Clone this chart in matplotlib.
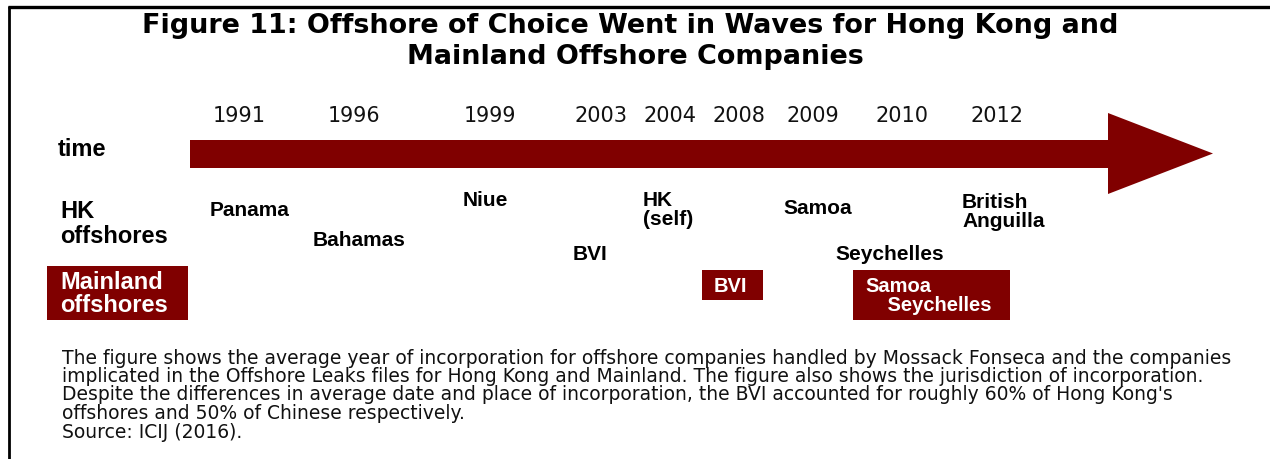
import matplotlib
matplotlib.use("Agg")
import matplotlib.pyplot as plt
from matplotlib.patches import Polygon, Rectangle

# ---------------- data ----------------
years = ["1991", "1996", "1999", "2003", "2004", "2008", "2009", "2010", "2012"]
hk_labels = ["Panama", "Bahamas", "Niue", "BVI", "HK\n(self)", "Samoa", "Seychelles", "British\nAnguilla"]
hk_years = ["1991", "1996", "1999", "2003", "2004", "2009", "2010", "2012"]
mainland_labels = ["BVI", "Samoa\n    Seychelles"]
mainland_years = ["2008", "2010"]

title_lines = ["Figure 11: Offshore of Choice Went in Waves for Hong Kong and",
               "Mainland Offshore Companies"]
caption_lines = [
    "The figure shows the average year of incorporation for offshore companies handled by Mossack Fonseca and the companies",
    "implicated in the Offshore Leaks files for Hong Kong and Mainland. The figure also shows the jurisdiction of incorporation.",
    "Despite the differences in average date and place of incorporation, the BVI accounted for roughly 60% of Hong Kong's",
    "offshores and 50% of Chinese respectively.",
    "Source: ICIJ (2016).",
]

# ---------------- layout (pixel canvas) ----------------
W, H = 1270, 459
DARK = "#800000"
year_x = [239, 354, 490, 601, 670, 739, 813, 902, 997]
hk_pos = {"Panama": (210, 211), "Bahamas": (313, 240), "Niue": (463, 200),
          "BVI": (573, 255), "HK\n(self)": (643, 210), "Samoa": (783, 208),
          "Seychelles": (835, 255), "British\nAnguilla": (962, 212)}
ml_boxes = {"BVI": (702, 270, 763, 300, 714, 286),
            "Samoa\n    Seychelles": (853, 270, 1010, 320, 865, 296)}

fig = plt.figure(figsize=(W / 100, H / 100), dpi=100)
ax = fig.add_axes([0, 0, 1, 1])
ax.set_xlim(0, W)
ax.set_ylim(H, 0)
ax.axis("off")
renderer = fig.canvas.get_renderer()
FONT = "Liberation Sans"
WIDE = "DejaVu Sans"


def fit(t, target_w):
    bb = t.get_window_extent(renderer)
    t.set_fontsize(t.get_fontsize() * target_w / bb.width)
    return t


# frame
ax.plot([8, W], [6.5, 6.5], color="black", lw=2.4, solid_capstyle="butt")
ax.plot([8.5, 8.5], [6, H], color="black", lw=2.0, solid_capstyle="butt")

# title
t1 = ax.text(630, 26, title_lines[0], ha="center", va="center", fontsize=16,
             fontweight="bold", family=WIDE)
fit(t1, 980)
t2 = ax.text(635, 57, title_lines[1], ha="center", va="center", fontsize=t1.get_fontsize(),
             fontweight="bold", family=WIDE)

# arrow
shaft_top, shaft_bot = 140, 168
ax.add_patch(Polygon([(190, shaft_top), (1108, shaft_top), (1108, 113), (1213, 153.5),
                      (1108, 194), (1108, shaft_bot), (190, shaft_bot)],
                     closed=True, facecolor=DARK, edgecolor="none"))

# years
for y, x in zip(years, year_x):
    t = ax.text(x, 116, y, ha="center", va="center", fontsize=15, family=WIDE, color="#111111")
    fit(t, 53)

ax.text(58, 149, "time", ha="left", va="center", fontsize=17, fontweight="bold", family=FONT)
hk = ax.text(60, 224, "HK\noffshores", ha="left", va="center", fontsize=17, fontweight="bold",
             family=FONT, linespacing=1.12)

# HK jurisdictions
for lab in hk_labels:
    x, y = hk_pos[lab]
    ax.text(x, y, lab, ha="left", va="center", fontsize=15, fontweight="bold", family=FONT,
            linespacing=1.05)

# Mainland
ax.add_patch(Rectangle((47, 266), 141, 54, facecolor=DARK, edgecolor="none"))
ax.text(60, 294, "Mainland\noffshores", ha="left", va="center", fontsize=17, fontweight="bold",
        family=FONT, color="white", linespacing=1.05)
for lab in mainland_labels:
    x0, y0, x1, y1, tx, ty = ml_boxes[lab]
    ax.add_patch(Rectangle((x0, y0), x1 - x0, y1 - y0, facecolor=DARK, edgecolor="none"))
    ax.text(tx, ty, lab, ha="left", va="center", fontsize=14.5, fontweight="bold", family=FONT,
            color="white", linespacing=1.05)

# caption
cap = []
for i, line in enumerate(caption_lines):
    t = ax.text(62, 358 + i * 18.5, line, ha="left", va="center", fontsize=11, family=WIDE,
                color="#111111")
    cap.append(t)
fit(cap[0], 1170)
for t in cap[1:]:
    t.set_fontsize(cap[0].get_fontsize())

fig.savefig("out.png", dpi=100)
